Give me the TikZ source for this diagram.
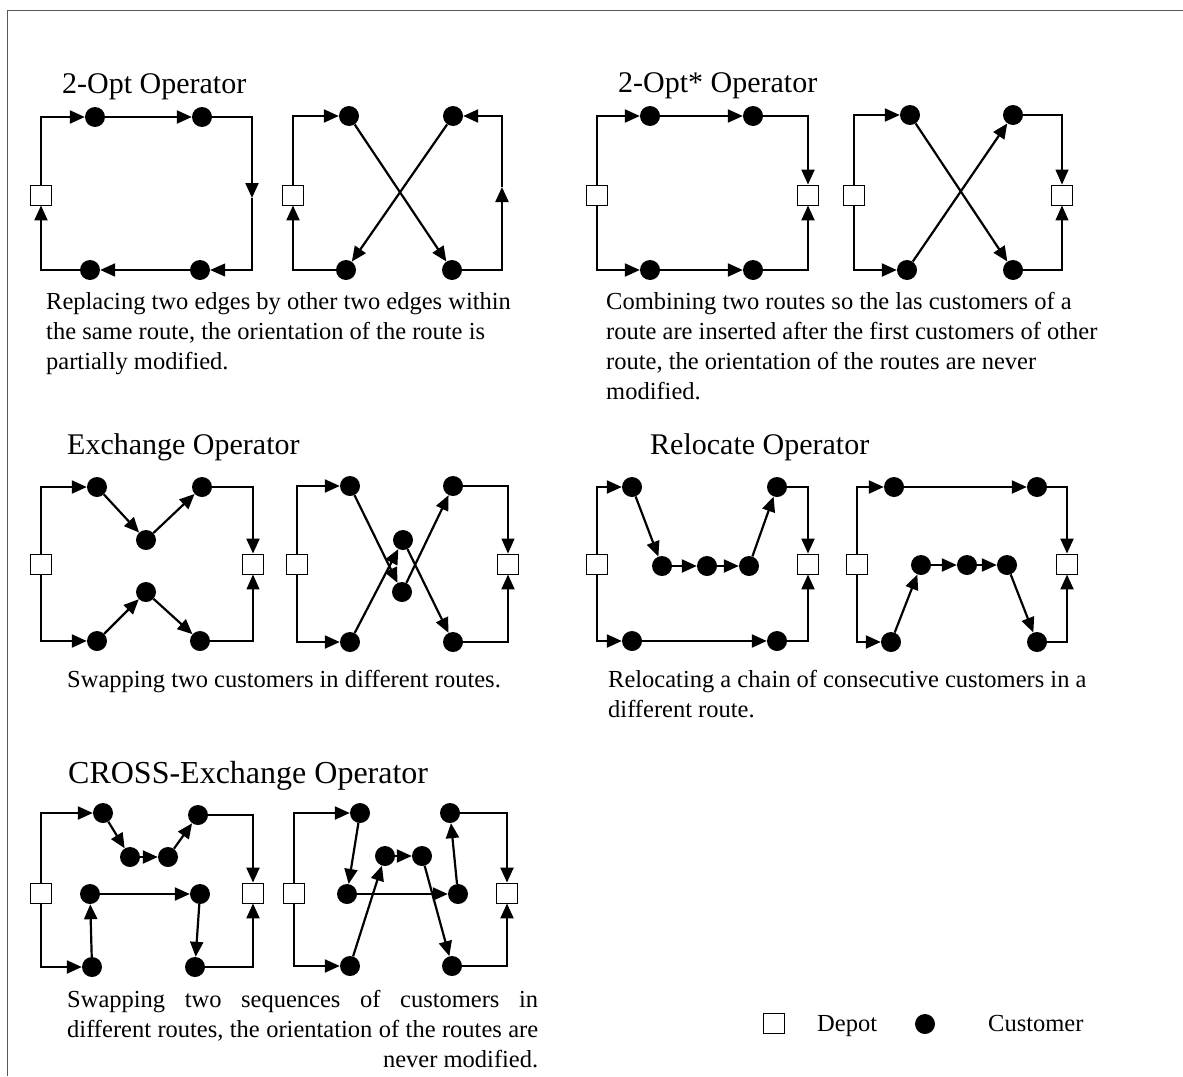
\documentclass[tikz,border=0pt]{standalone}
\usepackage{fontspec}
\setmainfont{Liberation Serif}
\usetikzlibrary{arrows.meta}
\tikzset{
  x=1pt, y=-1pt,
  cust/.style={circle, fill=black, inner sep=0pt, minimum size=20pt},
  depot/.style={rectangle, draw=black, fill=white, line width=0.9pt, minimum width=21pt, minimum height=20pt, inner sep=0pt},
  route/.style={line width=2.2pt, line join=miter},
  arr/.style={route, -{Triangle[length=15pt,width=13pt]}},
  thinline/.style={line width=1.2pt},
  ttl/.style={anchor=base west, inner sep=0pt, font=\fontsize{30}{36}\selectfont},
  desc/.style={anchor=north west, inner sep=0pt, align=left, font=\fontsize{24.5}{30}\selectfont},
  legtext/.style={anchor=base west, inner sep=0pt, font=\fontsize{24.5}{30}\selectfont},
  frame/.style={line width=1pt, draw=black!65}
}
\begin{document}
\begin{tikzpicture}
\useasboundingbox (0,0) rectangle (1183,1076);
% frame
\coordinate (fa) at (7,1076);
\coordinate (fb) at (7,10);
\coordinate (fc) at (1183,10);
\draw[frame] (fa) -- (fb) -- (fc);

% ---------------- Panel 1: 2-Opt ----------------
\node[ttl] (t1) at (62,93) {2-Opt Operator};
\node[depot] (p1d) at (41,195) {};
\node[cust] (p1c1) at (95,117) {};
\node[cust] (p1c2) at (202,117) {};
\coordinate (p1r) at (252,198);
\node[cust] (p1c3) at (200,270) {};
\node[cust] (p1c4) at (90,270) {};
\draw[arr] (p1d) |- (p1c1);
\draw[arr] (p1c1) -- (p1c2);
\draw[arr] (p1c2) -| (p1r);
\draw[arr, thinline] (p1r) |- (p1c3);
\draw[arr] (p1c3) -- (p1c4);
\draw[arr] (p1c4) -| (p1d);

\node[depot] (q1d) at (293,195) {};
\node[cust] (q1c1) at (349,116) {};
\node[cust] (q1c2) at (452,270) {};
\coordinate (q1r) at (502,187);
\node[cust] (q1c3) at (453,116) {};
\node[cust] (q1c4) at (346,270) {};
\draw[arr] (q1d) |- (q1c1);
\draw[arr] (q1c1) -- (q1c2);
\draw[arr] (q1c2) -| (q1r);
\draw[arr] (q1r) |- (q1c3);
\draw[arr] (q1c3) -- (q1c4);
\draw[arr] (q1c4) -| (q1d);

\node[desc] (e1) at (46,292) {Replacing two edges by other two edges within\\the same route, the orientation of the route is\\partially modified.};

% ---------------- Panel 2: 2-Opt* ----------------
\node[ttl] (t2) at (618,92) {2-Opt* Operator};
\node[depot] (p2d1) at (597,195) {};
\node[depot] (p2d2) at (808,195) {};
\node[cust] (p2c1) at (650,116) {};
\node[cust] (p2c2) at (753,116) {};
\node[cust] (p2c3) at (650,270) {};
\node[cust] (p2c4) at (753,270) {};
\draw[arr] (p2d1) |- (p2c1);
\draw[arr] (p2c1) -- (p2c2);
\draw[arr] (p2c2) -| (p2d2);
\draw[arr] (p2d1) |- (p2c3);
\draw[arr] (p2c3) -- (p2c4);
\draw[arr] (p2c4) -| (p2d2);

\node[depot] (q2d1) at (854,195) {};
\node[depot] (q2d2) at (1062,195) {};
\node[cust] (q2c1) at (910,115) {};
\node[cust] (q2c2) at (1013,115) {};
\node[cust] (q2c3) at (907,270) {};
\node[cust] (q2c4) at (1013,270) {};
\draw[arr] (q2d1) |- (q2c1);
\draw[arr] (q2c1) -- (q2c4);
\draw[arr, thinline] (q2c4) -| (q2d2);
\draw[arr] (q2d1) |- (q2c3);
\draw[arr] (q2c3) -- (q2c2);
\draw[arr, thinline] (q2c2) -| (q2d2);

\node[desc] (e2) at (606,292) {Combining two routes so the las customers of a\\route are inserted after the first customers of other\\route, the orientation of the routes are never\\modified.};

% ---------------- Panel 3: Exchange ----------------
\node[ttl] (t3) at (67,454) {Exchange Operator};
\node[depot] (p3d1) at (41,564) {};
\node[depot] (p3d2) at (253,564) {};
\node[cust] (p3c1) at (97,487) {};
\node[cust] (p3m1) at (146,540) {};
\node[cust] (p3c2) at (202,487) {};
\node[cust] (p3c3) at (97,641) {};
\node[cust] (p3m2) at (146,592) {};
\node[cust] (p3c4) at (200,641) {};
\draw[arr] (p3d1) |- (p3c1);
\draw[arr] (p3c1) -- (p3m1);
\draw[arr] (p3m1) -- (p3c2);
\draw[arr] (p3c2) -| (p3d2);
\draw[arr] (p3d1) |- (p3c3);
\draw[arr] (p3c3) -- (p3m2);
\draw[arr] (p3m2) -- (p3c4);
\draw[arr, thinline] (p3c4) -| (p3d2);

\node[depot] (q3d1) at (297,564) {};
\node[depot] (q3d2) at (508,564) {};
\node[cust] (q3c1) at (350,486) {};
\node[cust] (q3mu) at (403,540) {};
\node[cust] (q3ml) at (402,592) {};
\node[cust] (q3c2) at (453,486) {};
\node[cust] (q3c3) at (350,642) {};
\node[cust] (q3c4) at (453,642) {};
\draw[arr] (q3d1) |- (q3c1);
\draw[arr] (q3c1) -- (q3ml);
\draw[arr] (q3ml) -- (q3c2);
\draw[arr, thinline] (q3c2) -| (q3d2);
\draw[arr] (q3d1) |- (q3c3);
\draw[arr] (q3c3) -- (q3mu);
\draw[arr] (q3mu) -- (q3c4);
\draw[arr] (q3c4) -| (q3d2);

\node[desc] (e3) at (67,670) {Swapping two customers in different routes.};

% ---------------- Panel 4: Relocate ----------------
\node[ttl] (t4) at (650,454) {Relocate Operator};
\node[depot] (p4d1) at (597,564) {};
\node[depot] (p4d2) at (808,564) {};
\node[cust] (p4a1) at (632,487) {};
\node[cust] (p4b1) at (662,566) {};
\node[cust] (p4b2) at (707,566) {};
\node[cust] (p4b3) at (749,566) {};
\node[cust] (p4a2) at (777,487) {};
\node[cust] (p4a3) at (632,641) {};
\node[cust] (p4a4) at (777,641) {};
\draw[arr] (p4d1) |- (p4a1);
\draw[arr] (p4a1) -- (p4b1);
\draw[arr] (p4b1) -- (p4b2);
\draw[arr] (p4b2) -- (p4b3);
\draw[arr] (p4b3) -- (p4a2);
\draw[arr] (p4a2) -| (p4d2);
\draw[arr] (p4d1) |- (p4a3);
\draw[arr] (p4a3) -- (p4a4);
\draw[arr] (p4a4) -| (p4d2);

\node[depot] (q4d1) at (857,564) {};
\node[depot] (q4d2) at (1067,564) {};
\node[cust] (q4a1) at (894,487) {};
\node[cust] (q4a2) at (1037,487) {};
\node[cust] (q4a3) at (891,642) {};
\node[cust] (q4b1) at (921,565) {};
\node[cust] (q4b2) at (967,565) {};
\node[cust] (q4b3) at (1007,565) {};
\node[cust] (q4a4) at (1037,642) {};
\draw[arr] (q4d1) |- (q4a1);
\draw[arr] (q4a1) -- (q4a2);
\draw[arr] (q4a2) -| (q4d2);
\draw[arr] (q4d1) |- (q4a3);
\draw[arr] (q4a3) -- (q4b1);
\draw[arr] (q4b1) -- (q4b2);
\draw[arr] (q4b2) -- (q4b3);
\draw[arr] (q4b3) -- (q4a4);
\draw[arr] (q4a4) -| (q4d2);

\node[desc] (e4) at (608,670) {Relocating a chain of consecutive customers in a\\different route.};

% ---------------- Panel 5: CROSS-Exchange ----------------
\node[ttl, font=\fontsize{32}{38}\selectfont] (t5) at (68,783) {CROSS-Exchange Operator};
\node[depot] (p5d1) at (41,893) {};
\node[depot] (p5d2) at (253,893) {};
\node[cust] (p5c1) at (103,813) {};
\node[cust] (p5s1) at (130,857) {};
\node[cust] (p5s2) at (168,857) {};
\node[cust] (p5c2) at (198,815) {};
\node[cust] (p5t1) at (90,894) {};
\node[cust] (p5t2) at (200,894) {};
\node[cust] (p5c3) at (92,967) {};
\node[cust] (p5c4) at (195,967) {};
\draw[arr] (p5d1) |- (p5c1);
\draw[arr] (p5c1) -- (p5s1);
\draw[arr] (p5s1) -- (p5s2);
\draw[arr] (p5s2) -- (p5c2);
\draw[arr] (p5c2) -| (p5d2);
\draw[arr] (p5d1) |- (p5c3);
\draw[arr] (p5c3) -- (p5t1);
\draw[arr] (p5t1) -- (p5t2);
\draw[arr] (p5t2) -- (p5c4);
\draw[arr] (p5c4) -| (p5d2);

\node[depot] (q5d1) at (294,893) {};
\node[depot] (q5d2) at (507,893) {};
\node[cust] (q5c1) at (360,813) {};
\node[cust] (q5t1) at (347,894) {};
\node[cust] (q5t2) at (458,894) {};
\node[cust] (q5c2) at (450,813) {};
\node[cust] (q5s1) at (385,856) {};
\node[cust] (q5s2) at (422,856) {};
\node[cust] (q5c3) at (350,966) {};
\node[cust] (q5c4) at (452,966) {};
\draw[arr] (q5d1) |- (q5c1);
\draw[arr] (q5c1) -- (q5t1);
\draw[arr] (q5t1) -- (q5t2);
\draw[arr] (q5t2) -- (q5c2);
\draw[arr] (q5c2) -| (q5d2);
\draw[arr] (q5d1) |- (q5c3);
\draw[arr] (q5c3) -- (q5s1);
\draw[arr] (q5s1) -- (q5s2);
\draw[arr] (q5s2) -- (q5c4);
\draw[arr] (q5c4) -| (q5d2);

\node[desc] (e5) at (67,990) {\hbox to 471pt{Swapping\hfill two\hfill sequences\hfill of\hfill customers\hfill in}\\\hbox to 471pt{different\hfill routes,\hfill the\hfill orientation\hfill of\hfill the\hfill routes\hfill are}\\\hbox to 471pt{\hfill never modified.}};

% ---------------- Legend ----------------
\node[depot] (ld) at (774,1023) {};
\node[legtext] (ldt) at (817,1031) {Depot};
\node[cust] (lc) at (925,1024) {};
\node[legtext] (lct) at (988,1031) {Customer};
\end{tikzpicture}
\end{document}
